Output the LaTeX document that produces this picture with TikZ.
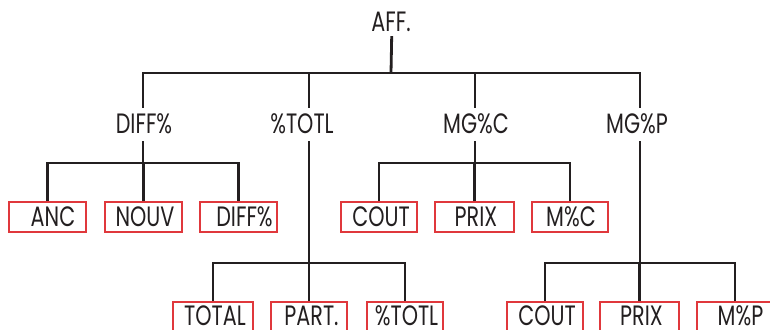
\documentclass[tikz,border=0pt]{standalone}
\usepackage{fontspec}
\setmainfont[FakeStretch=0.74]{Poppins}
\usetikzlibrary{calc}
\definecolor{linecol}{HTML}{231F20}
\definecolor{boxred}{HTML}{E0383C}
\begin{document}
\begin{tikzpicture}[x=1pt,y=-1pt,
  conn/.style={line width=2.8pt, draw=linecol, line join=miter},
  lbl/.style={inner sep=0pt, font=\fontsize{28}{28}\selectfont, text=linecol, text height=19pt, text depth=0pt, anchor=base},
  leaf/.style={draw=boxred, line width=1.9pt, minimum height=30pt, inner sep=0pt}]
\useasboundingbox (0,0) rectangle (770,329);
\clip (0,0) rectangle (770,329);
% level 1
\node[lbl] (aff) at (391,32) {AFF.};
% level 2 labels
\node[lbl] (diff) at (144,133) {DIFF\%};
\node[lbl] (ptot) at (302,133) {\%TOTL};
\node[lbl] (mgc) at (476,133) {MG\%C};
\node[lbl] (mgp) at (637,133) {MG\%P};
% junctions
\coordinate (j0) at (391,73);
\coordinate (jD) at (143,73);
\coordinate (jT) at (309,73);
\coordinate (jC) at (475,73);
\coordinate (jP) at (640,73);
\coordinate (kD) at (143,163);
\coordinate (kC) at (475,163);
\coordinate (kT) at (309,263);
\coordinate (kP) at (640,263);
% leaves row 1 (boxes)
\node[leaf, minimum width=77pt] (anc) at (47.5,217) {};
\node[leaf, minimum width=77pt] (nouv) at (143.5,217) {};
\node[leaf, minimum width=77pt] (dif2) at (238.5,217) {};
\node[leaf, minimum width=76pt] (cout1) at (379,217) {};
\node[leaf, minimum width=79pt] (prix1) at (474.5,217) {};
\node[leaf, minimum width=76pt] (mc) at (570,217) {};
% leaves row 2 (boxes)
\node[leaf, minimum width=80pt] (total) at (213,317) {};
\node[leaf, minimum width=76pt] (part) at (309,317) {};
\node[leaf, minimum width=76pt] (ptot2) at (405,317) {};
\node[leaf, minimum width=76pt] (cout2) at (545,317) {};
\node[leaf, minimum width=79pt] (prix2) at (639.5,317) {};
\node[leaf, minimum width=76pt] (mp) at (735,317) {};
% leaf texts
\node[lbl] (t-anc) at (53,226) {ANC};
\node[lbl] (t-nouv) at (145,226) {NOUV};
\node[lbl] (t-dif2) at (244.5,226) {DIFF\%};
\node[lbl] (t-cout1) at (381,226) {COUT};
\node[lbl] (t-prix1) at (476,226) {PRIX};
\node[lbl] (t-mc) at (571,226) {M\%C};
\node[lbl] (t-total) at (215,325) {TOTAL};
\node[lbl] (t-part) at (311.5,325) {PART.};
\node[lbl] (t-ptot2) at (406.5,325) {\%TOTL};
\node[lbl] (t-cout2) at (547,325) {COUT};
\node[lbl] (t-prix2) at (641.5,325) {PRIX};
\node[lbl] (t-mp) at (740.5,325) {M\%P};
% connectors level 1 -> 2
\draw[conn] ($(aff.south)+(0.7,4)$) -- (j0);
\draw[conn] ($(diff.north -| jD)+(0,-6)$) -- (jD) -- (jP) -- ($(mgp.north -| jP)+(0,-6)$);
\draw[conn] ($(ptot.north -| jT)+(0,-6)$) -- (jT);
\draw[conn] ($(mgc.north -| jC)+(0,-6)$) -- (jC);
% DIFF% subtree
\draw[conn] ($(diff.south -| kD)+(0,8)$) -- (kD);
\draw[conn] (anc.north) |- (kD) -| (dif2.north);
\draw[conn] (nouv.north) -- (nouv.north |- kD);
% MG%C subtree
\draw[conn] ($(mgc.south -| kC)+(0,8)$) -- (kC);
\draw[conn] (cout1.north) |- (kC) -| (mc.north);
\draw[conn] (prix1.north) -- (prix1.north |- kC);
% %TOTL subtree
\draw[conn] ($(ptot.south -| kT)+(0,8)$) -- (kT);
\draw[conn] (total.north) |- (kT) -| (ptot2.north);
\draw[conn] (part.north) -- (part.north |- kT);
% MG%P subtree
\draw[conn] ($(mgp.south -| kP)+(0,8)$) -- (kP);
\draw[conn] (cout2.north) |- (kP) -| (mp.north);
\draw[conn] (prix2.north) -- (prix2.north |- kP);
\end{tikzpicture}
\end{document}
